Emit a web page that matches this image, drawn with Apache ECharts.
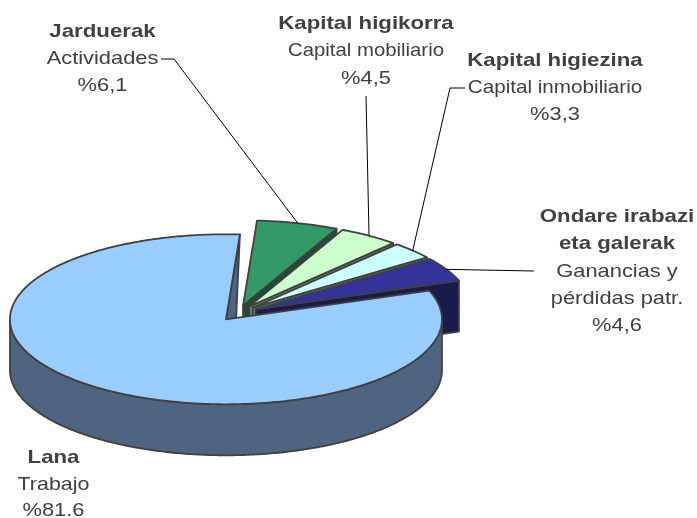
<!DOCTYPE html>
<html>
<head>
<meta charset="utf-8">
<style>html,body{margin:0;padding:0;background:#fff}#c{width:697px;height:518px}</style>
<script src="https://cdn.jsdelivr.net/npm/echarts@6/dist/echarts.min.js"></script>
</head>
<body>
<div id="c"></div>
<script>
// ---- data, back-to-front, clockwise from the start angle
var categories = ['Jarduerak', 'Kapital higikorra', 'Kapital higiezina', 'Ondare irabazi eta galerak', 'Lana'];
var shares = [6.1, 4.5, 3.3, 4.6, 81.6];
var shareLabels = ['%6,1', '%4,5', '%3,3', '%4,6', '%81.6'];
var boldLines = [['Jarduerak'], ['Kapital higikorra'], ['Kapital higiezina'], ['Ondare irabazi', 'eta galerak'], ['Lana']];
var spanishLines = [['Actividades'], ['Capital mobiliario'], ['Capital inmobiliario'], ['Ganancias y', 'pérdidas patr.'], ['Trabajo']];
var topColors = ['#339966', '#CCFFCC', '#CCFFFF', '#333399', '#99CCFF'];
var wallColors = ['#1C4D36', '#667F66', '#668080', '#1A1A4D', '#4E6480'];

// ---- layout
var CX = 238, CY = 313, RX = 216, RY = 85, DEPTH = 51, EXPLODE = 20, START_DEG = 3.7;
var EDGE = '#404040', EDGE_W = 1.8, TEXT = '#404040';
var labelBoxes = [
  {x: 102.5, y: 32, step: 27, stretch: 1.15},
  {x: 366, y: 23.5, step: 27.5, stretch: 1.07},
  {x: 555, y: 61, step: 27, stretch: 1.087},
  {x: 617, y: 217, step: 27.2, stretch: 1.15},
  {x: 53.5, y: 458, step: 26.5, stretch: 1.13}
];
// leader: from the label, through a knee, to the slice rim (rim end computed from data)
var leaderStarts = [[[161, 59], [174, 59]], [[366, 96]], [[465, 88], [450, 88]], [[534, 271]], null];

var total = shares.reduce(function (a, b) { return a + b; }, 0);
var rad = function (d) { return d * Math.PI / 180; };
var slices = [];
(function () {
  var a = START_DEG;
  shares.forEach(function (v, i) {
    var span = v / total * 360, mid = a + span / 2;
    slices.push({
      a0: a, a1: a + span, mid: mid,
      ox: CX + EXPLODE * Math.sin(rad(mid)),
      oy: CY - EXPLODE * (RY / RX) * Math.cos(rad(mid))
    });
    a += span;
  });
})();
function rim(s, deg, dy) {
  return [s.ox + RX * Math.sin(rad(deg)), s.oy - RY * Math.cos(rad(deg)) + (dy || 0)];
}
function arc(s, from, to, dy) {
  var n = Math.max(2, Math.ceil(Math.abs(to - from) * 1.5)), pts = [];
  for (var i = 0; i <= n; i++) pts.push(rim(s, from + (to - from) * i / n, dy));
  return pts;
}
function poly(pts, fill) {
  return {type: 'polygon', shape: {points: pts},
    style: {fill: fill, stroke: EDGE, lineWidth: EDGE_W, lineJoin: 'round'}};
}
function renderSlice(params, api) {
  var i = api.value(0), s = slices[i], kids = [], c = [s.ox, s.oy];
  var isMain = s.a1 - s.a0 > 180;
  if (isMain) {
    // far-side cut face: foreshortened to a sliver that meets the slice's other cut edge
    var outer = rim(s, s.a1), other = rim(s, s.a0);
    var t = 0.05;
    kids.push(poly([c, outer, [c[0] + (other[0] - c[0]) * t, c[1] + (other[1] - c[1]) * t]], wallColors[i]));
    // outer wall
    var w = arc(s, 90, 270).concat(arc(s, 270, 90, DEPTH));
    kids.push(poly(w, wallColors[i]));
  } else {
    // clockwise cut face
    var e = rim(s, s.a1);
    kids.push(poly([c, e, [e[0], e[1] + DEPTH], [c[0], c[1] + DEPTH]], wallColors[i]));
  }
  kids.push(poly([c].concat(arc(s, s.a0, s.a1)), topColors[i]));
  return {type: 'group', children: kids};
}

// ---- labels and leaders
var graphicEls = [];
function addText(str, x, y, bold, stretch) {
  graphicEls.push({
    type: 'text', x: x, y: y, scaleX: bold ? 1.17 : stretch, z: 10, silent: true,
    style: {text: str, x: 0, y: 0, fill: TEXT, align: 'center', verticalAlign: 'middle',
      font: (bold ? 'bold ' : '') + '19px "Liberation Sans", Arial, sans-serif'}
  });
}
categories.forEach(function (name, i) {
  var b = labelBoxes[i], y = b.y;
  boldLines[i].forEach(function (l) { addText(l, b.x, y, true); y += b.step; });
  spanishLines[i].forEach(function (l) { addText(l, b.x, y, false, b.stretch); y += b.step; });
  addText(shareLabels[i], b.x, y, false, 1.15);
  if (leaderStarts[i]) {
    graphicEls.push({
      type: 'polyline', z: 9, silent: true,
      shape: {points: leaderStarts[i].concat([rim(slices[i], slices[i].mid)])},
      style: {stroke: '#000', lineWidth: 1, fill: null}
    });
  }
});

var chart = echarts.init(document.getElementById('c'), null, {renderer: 'canvas'});
chart.setOption({
  animation: false,
  backgroundColor: '#fff',
  graphic: {elements: graphicEls},
  series: [{
    type: 'custom',
    coordinateSystem: 'none',
    renderItem: renderSlice,
    silent: true,
    data: shares.map(function (v, i) { return [i, v, categories[i]]; })
  }]
});
</script>
</body>
</html>
